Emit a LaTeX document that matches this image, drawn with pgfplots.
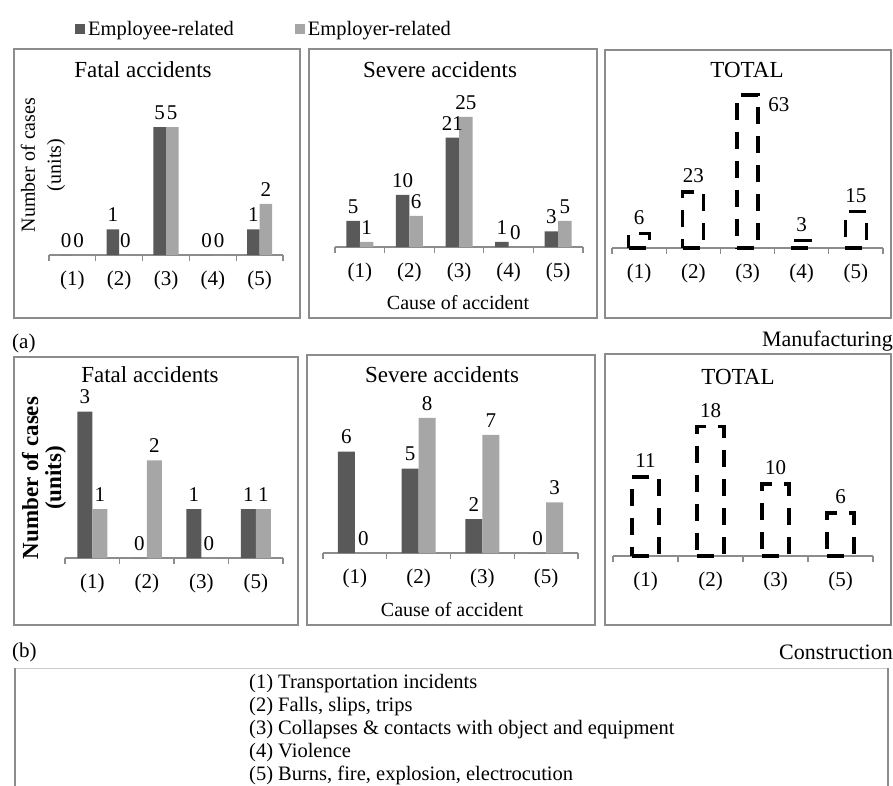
\documentclass[border=0pt]{standalone}
\usepackage{pgfplots}
\pgfplotsset{compat=1.18}
\usepackage{fontspec}
\setmainfont{Liberation Serif}
\definecolor{dark}{HTML}{595959}
\definecolor{light}{HTML}{A6A6A6}
\definecolor{frame}{HTML}{8C8C8C}
\newcommand{\fs}[1]{\fontsize{#1}{#1}\selectfont}
\pgfplotsset{
 panel/.style={
  scale only axis, ymin=0, clip=false, anchor=south west,
  axis y line=none, axis x line*=bottom,
  x axis line style={draw=frame, line width=1.3pt, -},
  xtick style={draw=none},
  major tick length=6pt, tick align=outside,
  xticklabel style={font=\fs{21}, text depth=0pt, yshift=-6pt},
  /pgf/number format/assume math mode=true,
  nodes near coords,
  every node near coord/.append style={font=\fs{21}, yshift=4pt, text=black},
 },
 five/.style={xmin=0.5,xmax=5.5, xtick={1,2,3,4,5}, xticklabels={(1),(2),(3),(4),(5)},
   extra x ticks={0.5,1.5,2.5,3.5,4.5,5.5}, extra x tick labels={},
   extra x tick style={xtick style={draw=frame, line width=1.2pt}}},
 four/.style={xmin=0.5,xmax=4.5, xtick={1,2,3,4}, xticklabels={(1),(2),(3),(5)},
   extra x ticks={0.5,1.5,2.5,3.5,4.5}, extra x tick labels={},
   extra x tick style={xtick style={draw=frame, line width=1.2pt}}},
 dk/.style={fill=dark, draw=none},
 lt/.style={fill=light, draw=none},
 tot/.style={draw=black, fill=none, line width=3.3pt, dash pattern=on 17pt off 12pt, bar shift=0pt},
}
\begin{document}
\begin{tikzpicture}
\useasboundingbox (0,0) rectangle (893pt,-786pt);
% panel frames
\draw[frame, line width=1.5pt] (14pt,-49pt) rectangle (300pt,-318pt);
\draw[frame, line width=1.5pt] (309pt,-49pt) rectangle (597pt,-318pt);
\draw[frame, line width=1.5pt] (605pt,-50pt) rectangle (891pt,-318pt);
\draw[frame, line width=1.5pt] (14pt,-357pt) rectangle (298pt,-625pt);
\draw[frame, line width=1.5pt] (307pt,-355pt) rectangle (595pt,-625pt);
\draw[frame, line width=1.5pt] (605pt,-354pt) rectangle (891pt,-625pt);

% ---------- Manufacturing: Fatal ----------
\begin{axis}[panel, five, at={(49pt,-255pt)}, width=234pt, height=160pt, ymax=6.25,
  ybar=0pt, bar width=12.5pt,
  legend style={at={(0.111,1.4125)}, anchor=west, draw=none, fill=none, inner sep=0pt,
    legend columns=2, font=\fs{20.5},
    /tikz/every odd column/.append style={column sep=1pt},
    /tikz/every even column/.append style={column sep=59pt}},
  legend image code/.code={\fill[#1] (0pt,-5pt) rectangle (10pt,5pt);}]
\addplot[dk] coordinates {(1,0) (2,1) (3,5) (4,0) (5,1)};
\addplot[lt] coordinates {(1,0) (2,0) (3,5) (4,0) (5,2)};
\legend{Employee-related, Employer-related}
\end{axis}

% ---------- Manufacturing: Severe ----------
\begin{axis}[panel, five, at={(335pt,-247pt)}, width=248pt, height=152pt, ymax=29.2,
  ybar=0pt, bar width=13.5pt]
\addplot[dk] coordinates {(1,5) (2,10) (3,21) (4,1) (5,3)};
\addplot[lt] coordinates {(1,1) (2,6) (3,25) (4,0) (5,5)};
\end{axis}

% ---------- Manufacturing: Total ----------
\begin{axis}[panel, five, at={(612pt,-248pt)}, width=271pt, height=155pt, ymax=63.8,
  ybar, bar width=21pt]
\addplot[tot] coordinates {(1,6) (2,23) (4,3) (5,15)};
\addplot[tot, every node near coord/.append style={anchor=west, xshift=16pt, yshift=-14pt}] coordinates {(3,63)};
\end{axis}

% ---------- Construction: Fatal ----------
\begin{axis}[panel, four, at={(65pt,-558pt)}, width=218pt, height=160pt, ymax=3.28,
  ybar=0pt, bar width=15pt]
\addplot[dk] coordinates {(1,3) (2,0) (3,1) (4,1)};
\addplot[lt] coordinates {(1,1) (2,2) (3,0) (4,1)};
\end{axis}

% ---------- Construction: Severe ----------
\begin{axis}[panel, four, at={(323pt,-553pt)}, width=255pt, height=150pt, ymax=8.88,
  ybar=0pt, bar width=17pt]
\addplot[dk] coordinates {(1,6) (2,5) (3,2) (4,0)};
\addplot[lt] coordinates {(1,0) (2,8) (3,7) (4,3)};
\end{axis}

% ---------- Construction: Total ----------
\begin{axis}[panel, four, at={(613pt,-556pt)}, width=260pt, height=156pt, ymax=21.7,
  ybar, bar width=27pt]
\addplot[tot] coordinates {(1,11) (2,18) (3,10) (4,6)};
\end{axis}

% titles
\node[font=\fs{23}] at (143pt,-70pt) {Fatal accidents};
\node[font=\fs{23}] at (440pt,-70pt) {Severe accidents};
\node[font=\fs{23}] at (747pt,-70pt) {TOTAL};
\node[font=\fs{23}] at (150pt,-375pt) {Fatal accidents};
\node[font=\fs{23}] at (442pt,-375pt) {Severe accidents};
\node[font=\fs{23}] at (738pt,-377pt) {TOTAL};
% axis labels
\node[rotate=90, align=center, font=\fontsize{20}{26}\selectfont] at (43pt,-165pt) {Number of cases\\(units)};
\node[rotate=90, align=center, font=\fontsize{23}{23}\selectfont\bfseries] at (44pt,-478pt) {Number of cases\\(units)};
\node[font=\fs{20}] at (458pt,-303pt) {Cause of accident};
\node[font=\fs{20}] at (452pt,-610pt) {Cause of accident};
% group labels
\node[font=\fs{21}, anchor=west, inner sep=0pt] at (12pt,-343pt) {(a)};
\node[font=\fs{22}, anchor=east, inner sep=0pt] at (893pt,-341pt) {Manufacturing};
\node[font=\fs{21}, anchor=west, inner sep=0pt] at (12pt,-652pt) {(b)};
\node[font=\fs{22}, anchor=east, inner sep=0pt] at (893pt,-652pt) {Construction};
% key box
\draw[frame!45, line width=1pt] (15pt,-668pt) -- (888pt,-668pt);
\draw[frame, line width=1.5pt] (15pt,-668pt) -- (15pt,-790pt);
\draw[frame, line width=1.5pt] (888pt,-668pt) -- (888pt,-790pt);
\begin{scope}[every node/.style={font=\fs{20.5}, anchor=base west, inner sep=0pt}]
\node at (249pt,-688pt) {(1) Transportation incidents};
\node at (249pt,-711pt) {(2) Falls, slips, trips};
\node at (249pt,-734pt) {(3) Collapses \& contacts with object and equipment};
\node at (249pt,-757pt) {(4) Violence};
\node at (249pt,-780pt) {(5) Burns, fire, explosion, electrocution};
\end{scope}
\end{tikzpicture}
\end{document}
